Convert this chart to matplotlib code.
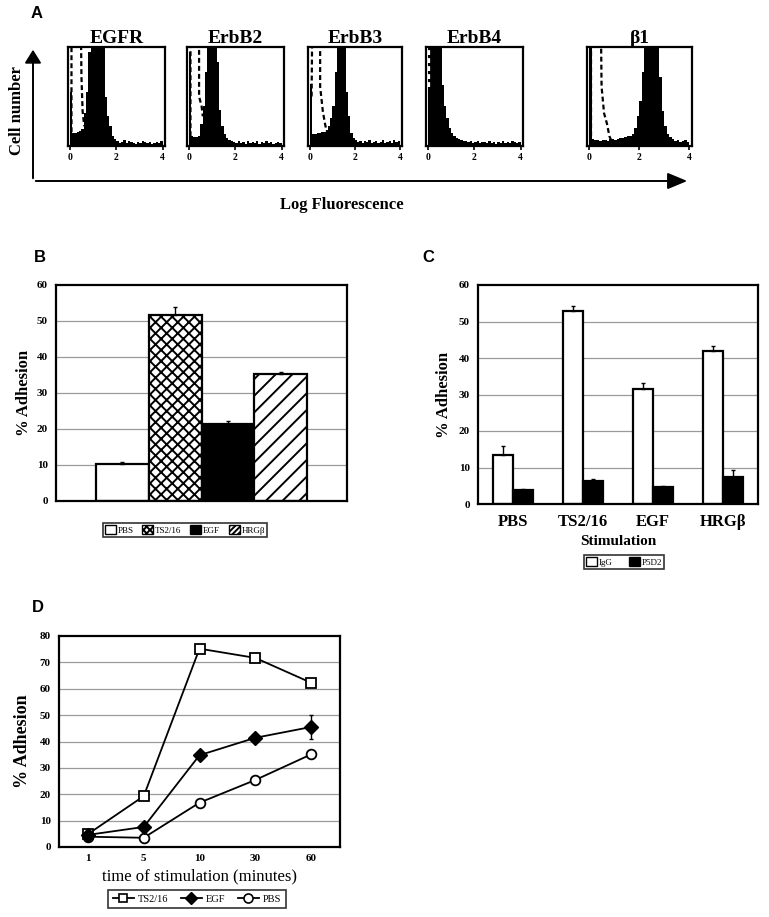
import numpy as np
import matplotlib
matplotlib.use('Agg')
import matplotlib.pyplot as plt
from matplotlib.patches import Patch
from matplotlib.lines import Line2D

plt.rcParams['font.family'] = ['Liberation Serif', 'DejaVu Serif']
plt.rcParams['hatch.linewidth'] = 1.4

W, H = 769, 917

# ---- Panel A: flow cytometry histograms (fraction of box height, 0.1 log bins 0..4)
hist_names = ['EGFR', 'ErbB2', 'ErbB3', 'ErbB4', '\u03b21']
egfr_counts = [0.55, 0.13, 0.13, 0.14, 0.15, 0.17, 0.33, 0.55, 0.95, 1.30,
               1.30, 1.30, 1.30, 1.30, 1.00, 0.50, 0.30, 0.20, 0.10, 0.07,
               0.05, 0.03, 0.04, 0.06, 0.03, 0.05, 0.04, 0.03, 0.02, 0.04,
               0.03, 0.05, 0.04, 0.03, 0.04, 0.02, 0.03, 0.04, 0.03, 0.05]
erbb2_counts = [0.95, 0.10, 0.09, 0.09, 0.10, 0.22, 0.40, 0.75, 1.30, 1.30,
                1.30, 1.30, 0.85, 0.36, 0.20, 0.12, 0.08, 0.06, 0.05, 0.04,
                0.03, 0.05, 0.03, 0.04, 0.02, 0.05, 0.03, 0.04, 0.03, 0.05,
                0.02, 0.04, 0.03, 0.05, 0.03, 0.04, 0.02, 0.03, 0.04, 0.03]
erbb3_counts = [0.63, 0.12, 0.12, 0.13, 0.13, 0.14, 0.14, 0.16, 0.20, 0.28,
                0.40, 0.75, 1.30, 1.30, 1.30, 1.30, 0.55, 0.30, 0.13, 0.08,
                0.06, 0.04, 0.05, 0.03, 0.05, 0.04, 0.06, 0.03, 0.04, 0.05,
                0.03, 0.04, 0.06, 0.03, 0.04, 0.05, 0.03, 0.06, 0.04, 0.05]
erbb4_counts = [1.30, 1.30, 1.30, 1.30, 1.30, 1.00, 0.62, 0.40, 0.28, 0.18,
                0.13, 0.10, 0.08, 0.07, 0.06, 0.05, 0.05, 0.04, 0.05, 0.03,
                0.04, 0.05, 0.03, 0.04, 0.04, 0.03, 0.05, 0.03, 0.04, 0.02,
                0.04, 0.03, 0.05, 0.03, 0.04, 0.03, 0.05, 0.04, 0.03, 0.04]
beta1_counts = [1.00, 0.07, 0.06, 0.06, 0.05, 0.06, 0.06, 0.05, 0.07, 0.07,
                0.06, 0.07, 0.08, 0.08, 0.09, 0.10, 0.10, 0.12, 0.18, 0.30,
                0.45, 0.75, 1.05, 1.30, 1.30, 1.30, 1.30, 1.25, 0.70, 0.35,
                0.20, 0.12, 0.09, 0.07, 0.05, 0.06, 0.04, 0.05, 0.06, 0.04]
hist_counts = [egfr_counts, erbb2_counts, erbb3_counts, erbb4_counts, beta1_counts]

# isotype control outlines (dashed): log fluorescence, fraction of box height
egfr_ctrl_x = [0.07, 0.07, 0.47, 0.50, 0.55, 0.62]
egfr_ctrl_y = [0.14, 1.30, 1.30, 0.70, 0.35, 0.20]
erbb2_ctrl_x = [0.07, 0.07, 0.44, 0.44, 0.55, 0.60]
erbb2_ctrl_y = [0.10, 1.30, 1.30, 0.50, 0.40, 0.30]
erbb3_ctrl_x = [0.08, 0.10, 0.15, 0.46, 0.46, 0.58, 0.68, 0.75]
erbb3_ctrl_y = [0.50, 1.00, 1.30, 1.30, 0.60, 0.35, 0.22, 0.15]
erbb4_ctrl_x = [0.07, 0.07]
erbb4_ctrl_y = [0.60, 1.30]
beta1_ctrl_x = [0.08, 0.08, 0.47, 0.50, 0.60, 0.72, 0.81, 0.88]
beta1_ctrl_y = [0.10, 1.30, 1.30, 0.60, 0.33, 0.22, 0.10, 0.06]
ctrl_x = [egfr_ctrl_x, erbb2_ctrl_x, erbb3_ctrl_x, erbb4_ctrl_x, beta1_ctrl_x]
ctrl_y = [egfr_ctrl_y, erbb2_ctrl_y, erbb3_ctrl_y, erbb4_ctrl_y, beta1_ctrl_y]
ctrl_colors = ['black', 'black', 'black', 'white', 'black']

# ---- Panel B
b_labels = ['PBS', 'TS2/16', 'EGF', 'HRG\u03b2']
b_values = [10.3, 51.6, 21.3, 35.3]
b_errors = [0.4, 2.2, 0.8, 0.4]

# ---- Panel C
c_labels = ['PBS', 'TS2/16', 'EGF', 'HRG\u03b2']
c_igg = [13.3, 52.8, 31.6, 41.9]
c_igg_err = [2.5, 1.5, 1.5, 1.4]
c_p5d2 = [3.8, 6.4, 4.6, 7.3]
c_p5d2_err = [0.3, 0.4, 0.3, 2.0]

# ---- Panel D
d_times = ['1', '5', '10', '30', '60']
d_ts216 = [4.9, 19.3, 75.2, 71.7, 62.3]
d_egf = [4.6, 7.6, 34.8, 41.4, 45.5]
d_egf_err = [0, 0, 0, 0, 4.5]
d_pbs = [3.9, 3.5, 16.8, 25.4, 35.1]


def ax_px(l, t, r, b):
    return fig.add_axes([l / W, 1 - b / H, (r - l) / W, (b - t) / H])


def style_bar_axes(ax, ymax):
    ax.set_ylim(0, ymax)
    ax.set_yticks(range(0, ymax + 1, 10))
    for v in range(10, ymax, 10):
        ax.axhline(v, color='#9a9a9a', lw=0.9, zorder=0)
    for s in ax.spines.values():
        s.set_linewidth(1.6)
    ax.tick_params(axis='y', length=0, pad=6, labelsize=8)
    for t in ax.get_yticklabels():
        t.set_fontweight('bold')


fig = plt.figure(figsize=(W / 100, H / 100), dpi=100)

# panel letters
for letter, (px, py) in zip('ABCD', [(37, 14), (40, 258), (428, 258), (38, 607)]):
    fig.text(px / W, 1 - py / H, letter, family='Liberation Sans', weight='bold',
             fontsize=12, ha='center', va='center')

# ---- Panel A
boxes = [(68, 165), (187, 284), (308, 402), (426, 523), (587, 692)]
edges = np.arange(0, 4.01, 0.1)
for i, (l, r) in enumerate(boxes):
    ax = ax_px(l, 47, r, 146)
    y = list(hist_counts[i]) + [hist_counts[i][-1]]
    ax.fill_between(edges, 0, y, step='post', color='black', lw=0)
    ax.plot(ctrl_x[i], ctrl_y[i], color=ctrl_colors[i], lw=1.6, ls=(0, (2.2, 1.4)))
    ax.set_xlim(-0.08, 4.1)
    ax.set_ylim(0, 1)
    ax.set_yticks([])
    ax.set_xticks([0, 2, 4])
    ax.tick_params(axis='x', length=3, width=1.2, pad=2, labelsize=7)
    for t in ax.get_xticklabels():
        t.set_fontweight('bold')
    for s in ax.spines.values():
        s.set_linewidth(1.6)
    ax.set_title(hist_names[i], fontsize=14, fontweight='bold', pad=3)

fig.add_artist(matplotlib.patches.FancyArrowPatch(
    (33 / W, 1 - 181 / H), (33 / W, 1 - 47 / H), transform=fig.transFigure,
    arrowstyle='-|>,head_length=8,head_width=5', lw=1.4, color='black'))
fig.add_artist(matplotlib.patches.FancyArrowPatch(
    (33 / W, 1 - 181 / H), (690 / W, 1 - 181 / H), transform=fig.transFigure,
    arrowstyle='-|>,head_length=12,head_width=5', lw=1.4, color='black'))
fig.text(17 / W, 1 - 111 / H, 'Cell number', rotation=90, fontsize=12,
         fontweight='bold', ha='center', va='center')
fig.text(342 / W, 1 - 205 / H, 'Log Fluorescence', fontsize=12,
         fontweight='bold', ha='center', va='center')

# ---- Panel B
axb = ax_px(56, 285, 347, 501)
b_hatch = ['', 'xxx', '', '//']
b_face = ['white', 'white', 'black', 'white']
xb = np.arange(len(b_labels))
for i in range(len(b_labels)):
    axb.bar(xb[i], b_values[i], width=1.0, color=b_face[i], edgecolor='black',
            hatch=b_hatch[i], lw=1.6, zorder=2)
axb.errorbar(xb, b_values, yerr=[[0] * 4, b_errors], fmt='none', ecolor='black',
             elinewidth=1, capsize=1.5, zorder=3)
axb.set_xlim(-1.25, 4.25)
axb.set_xticks([])
style_bar_axes(axb, 60)
axb.set_ylabel('% Adhesion', fontsize=12, fontweight='bold', labelpad=3)
b_leg_hatch = ['', 'xxxxx', '', '//////']
hb = [Patch(facecolor=b_face[i], edgecolor='black', hatch=b_leg_hatch[i], lw=1)
      for i in range(4)]
lb = fig.legend(hb, b_labels, loc='center', bbox_to_anchor=(185 / W, 1 - 530 / H),
                ncol=4, fontsize=6.5, frameon=True, fancybox=False, edgecolor='black',
                handlelength=1.2, handleheight=1.2, handletextpad=0.2,
                columnspacing=1.0, borderpad=0.2)
lb.get_frame().set_linewidth(1.2)

# ---- Panel C
axc = ax_px(478, 285, 758, 504)
xc = np.arange(len(c_labels))
bw = 0.29
axc.bar(xc - bw / 2, c_igg, width=bw, color='white', edgecolor='black', lw=1.6, zorder=2)
axc.bar(xc + bw / 2, c_p5d2, width=bw, color='black', edgecolor='black', lw=1.6, zorder=2)
axc.errorbar(xc - bw / 2, c_igg, yerr=[[0] * 4, c_igg_err], fmt='none', ecolor='black',
             elinewidth=1, capsize=1.5, zorder=3)
axc.errorbar(xc + bw / 2, c_p5d2, yerr=[[0] * 4, c_p5d2_err], fmt='none', ecolor='black',
             elinewidth=1, capsize=1.5, zorder=3)
axc.set_xlim(-0.5, 3.5)
axc.set_xticks(xc)
axc.set_xticklabels(c_labels, fontsize=12, fontweight='bold')
axc.tick_params(axis='x', length=0, pad=7)
style_bar_axes(axc, 60)
axc.set_ylabel('% Adhesion', fontsize=12, fontweight='bold', labelpad=5)
axc.set_xlabel('Stimulation', fontsize=11, fontweight='bold', labelpad=4)
hc = [Patch(facecolor='white', edgecolor='black', lw=1),
      Patch(facecolor='black', edgecolor='black', lw=1)]
lc = fig.legend(hc, ['IgG', 'P5D2'], loc='center', bbox_to_anchor=(624 / W, 1 - 562 / H),
                ncol=2, fontsize=6.5, frameon=True, fancybox=False, edgecolor='black',
                handlelength=1.2, handleheight=1.2, handletextpad=0.2,
                columnspacing=1.8, borderpad=0.2)
lc.get_frame().set_linewidth(1.2)

# ---- Panel D
axd = ax_px(59, 636, 340, 847)
xd = np.arange(len(d_times))
axd.plot(xd, d_ts216, color='black', lw=1.3, marker='s', ms=6.5, mfc='white',
         mec='black', mew=1.3, zorder=3, label='TS2/16')
axd.errorbar(xd, d_egf, yerr=[[0, 0, 0, 0, d_egf_err[4]], d_egf_err], color='black',
             lw=1.3, marker='D', ms=7, mfc='black', mec='black', elinewidth=1,
             capsize=1.5, zorder=3)
axd.plot(xd, d_pbs, color='black', lw=1.3, marker='o', ms=7, mfc='white',
         mec='black', mew=1.3, zorder=3)
axd.set_xlim(-0.52, 4.52)
axd.set_xticks(xd)
axd.set_xticklabels(d_times, fontsize=8, fontweight='bold')
axd.tick_params(axis='x', length=0, pad=5)
style_bar_axes(axd, 80)
axd.set_ylabel('% Adhesion', fontsize=13, fontweight='bold', labelpad=6)
axd.set_xlabel('time of stimulation (minutes)', fontsize=12, labelpad=4)
hd = [Line2D([], [], color='black', lw=1.3, marker='s', ms=6, mfc='white', mew=1.2),
      Line2D([], [], color='black', lw=1.3, marker='D', ms=6.5, mfc='black'),
      Line2D([], [], color='black', lw=1.3, marker='o', ms=6.5, mfc='white', mew=1.2)]
ld = fig.legend(hd, ['TS2/16', 'EGF', 'PBS'], loc='center',
                bbox_to_anchor=(197 / W, 1 - 899 / H), ncol=3, fontsize=7.5,
                frameon=True, fancybox=False, edgecolor='black', handlelength=2,
                handletextpad=0.4, columnspacing=1.2, borderpad=0.45)
ld.get_frame().set_linewidth(1.2)

fig.savefig('out.png', dpi=100)
